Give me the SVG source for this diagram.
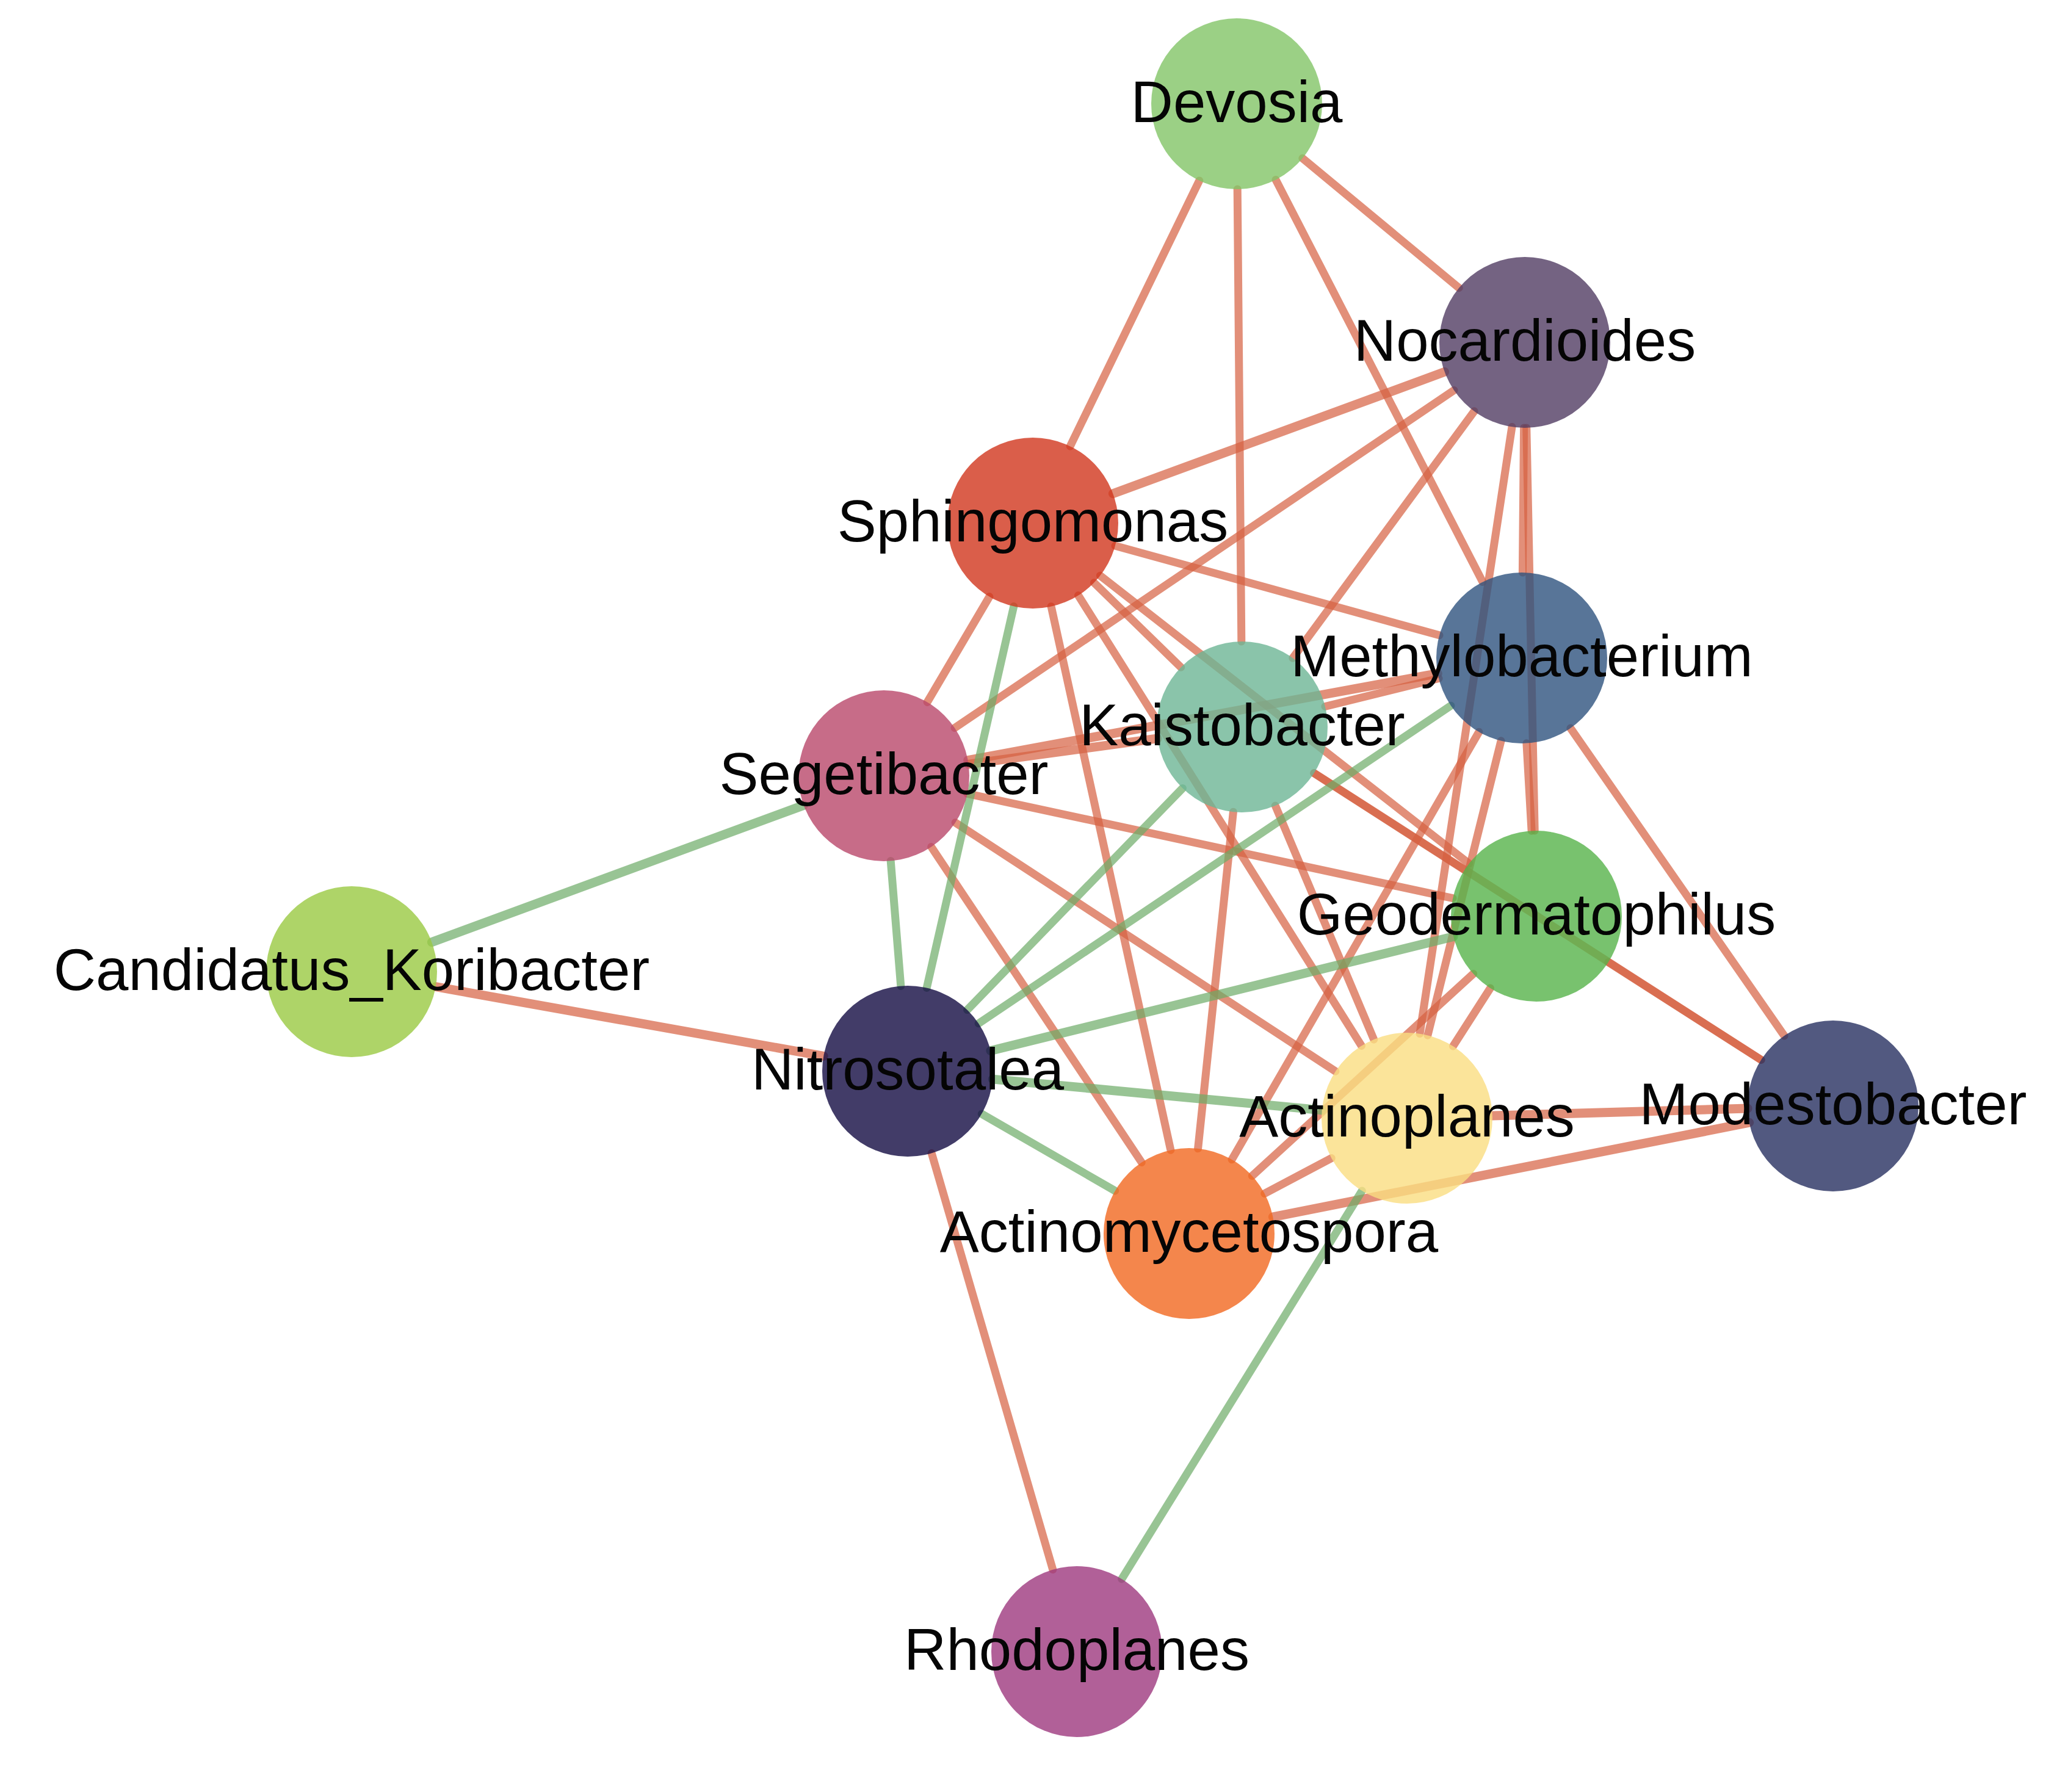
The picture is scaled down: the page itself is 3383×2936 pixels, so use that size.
<svg xmlns="http://www.w3.org/2000/svg" width="3383" height="2936" viewBox="0 0 3383 2936">
<style>
.e{fill:none;stroke-linecap:round;stroke-width:13}
.r{stroke:#d65f40;stroke-opacity:0.7}
.g{stroke:#6cab66;stroke-opacity:0.7}
.w{stroke-width:15}
.n{fill-opacity:0.8}
.t{font-family:"Liberation Sans",Arial,sans-serif;font-size:96px;fill:#050505;text-anchor:middle}
</style>
<rect width="3383" height="2936" fill="#ffffff"/>
<g id="edges">
<line class="e r" x1="1964.8" y1="295.9" x2="1753.2" y2="731.1"/>
<line class="e r" x1="2027.2" y1="310" x2="2033.8" y2="1051"/>
<line class="e r" x1="2133.8" y1="259.3" x2="2390.2" y2="471.7"/>
<line class="e r" x1="2090" y1="294.5" x2="2429" y2="953.5"/>
<line class="e r w" x1="2366.6" y1="609.3" x2="1823.4" y2="808.7"/>
<line class="e r" x1="2382" y1="639.4" x2="1564" y2="1192.6"/>
<line class="e r" x1="2415.1" y1="673.8" x2="2117.9" y2="1078.2"/>
<line class="e r" x1="2496.6" y1="701" x2="2494.4" y2="938"/>
<line class="e r" x1="2500.8" y1="701" x2="2514.2" y2="1361"/>
<line class="e r" x1="2477" y1="699.4" x2="2326" y2="1693.6"/>
<line class="e r" x1="1827" y1="894.2" x2="2358" y2="1040.8"/>
<line class="e r" x1="1620.9" y1="977.6" x2="1519.1" y2="1150.4"/>
<line class="e r" x1="1792.3" y1="954.7" x2="1934.7" y2="1093.3"/>
<line class="e r" x1="1722.1" y1="993.7" x2="1917.9" y2="1884.3"/>
<line class="e r" x1="1766.5" y1="975.5" x2="2230.5" y2="1713.5"/>
<line class="e r" x1="1802.4" y1="943.1" x2="2406.6" y2="1414.9"/>
<line class="e r w" x1="1586.7" y1="1252.1" x2="1896.3" y2="1209.9"/>
<line class="e r w" x1="1585.7" y1="1245.6" x2="2355.3" y2="1103.4"/>
<line class="e r" x1="1584.9" y1="1300.4" x2="2380.1" y2="1471.6"/>
<line class="e r" x1="1565.1" y1="1347.7" x2="2187.9" y2="1755.3"/>
<line class="e r" x1="1525.7" y1="1387.5" x2="1870.3" y2="1904.5"/>
<line class="e r" x1="2170.9" y1="1157.5" x2="2357.1" y2="1111.5"/>
<line class="e r" x1="2020.4" y1="1330.2" x2="1962.6" y2="1881.8"/>
<line class="e r" x1="2089.3" y1="1320" x2="2250.7" y2="1703"/>
<line class="e r" x1="2152.7" y1="1266.7" x2="2399.3" y2="1425.3"/>
<line class="e r" x1="2152.8" y1="1266.6" x2="2885.2" y2="1736.4"/>
<line class="e r" x1="2634.9" y1="1576.5" x2="2885.1" y2="1736.5"/>
<line class="e r" x1="2500.9" y1="1217.8" x2="2509.1" y2="1361.2"/>
<line class="e r" x1="2459.1" y1="1213.8" x2="2338.9" y2="1696.2"/>
<line class="e r" x1="2422.9" y1="1199.2" x2="2018.1" y2="1899.8"/>
<line class="e r" x1="2572.9" y1="1193" x2="2923.1" y2="1697"/>
<line class="e r" x1="2413.7" y1="1595.4" x2="2051.3" y2="1926.6"/>
<line class="e r" x1="2441.5" y1="1618.9" x2="2380.5" y2="1714.1"/>
<line class="e r w" x1="2444.9" y1="1828" x2="2863.1" y2="1816"/>
<line class="e r" x1="2071.7" y1="1955.5" x2="2181.3" y2="1897.5"/>
<line class="e r w" x1="2085.3" y1="1993.8" x2="2865.7" y2="1839.2"/>
<line class="e r w" x1="713.8" y1="1616.7" x2="1349.2" y2="1730.3"/>
<line class="e r" x1="1526.2" y1="1889.4" x2="1724.8" y2="2571.6"/>
<line class="e g w" x1="1316.6" y1="1319.4" x2="707.4" y2="1543.6"/>
<line class="e g" x1="1459.2" y1="1410.5" x2="1475.8" y2="1615.5"/>
<line class="e g" x1="1660.8" y1="993.5" x2="1518.2" y2="1618.5"/>
<line class="e g" x1="1937.4" y1="1291.4" x2="1584.6" y2="1654.6"/>
<line class="e g" x1="2376.9" y1="1156.2" x2="1603.1" y2="1676.8"/>
<line class="e g w" x1="2381.1" y1="1534.5" x2="1622.9" y2="1721.5"/>
<line class="e g w" x1="2165.6" y1="1818.9" x2="1626.4" y2="1768.1"/>
<line class="e g" x1="1826.7" y1="1951" x2="1608.3" y2="1825"/>
<line class="e g" x1="1837.7" y1="2587" x2="2231.3" y2="1951"/>
</g>
<g id="node-Devosia"><circle class="n" cx="2026" cy="170" r="140" fill="#82c467"/><text class="t" x="2026" y="200">Devosia</text></g>
<g id="node-Nocardioides"><circle class="n" cx="2498" cy="561" r="140" fill="#513c63"/><text class="t" x="2498" y="591">Nocardioides</text></g>
<g id="node-Sphingomonas"><circle class="n" cx="1692" cy="857" r="140" fill="#d1361d"/><text class="t" x="1692" y="887">Sphingomonas</text></g>
<g id="node-Kaistobacter"><circle class="n" cx="2035" cy="1191" r="140" fill="#6db595"/><text class="t" x="2035" y="1221">Kaistobacter</text></g>
<g id="node-Methylobacterium"><circle class="n" cx="2493" cy="1078" r="140" fill="#2e537e"/><text class="t" x="2493" y="1108">Methylobacterium</text></g>
<g id="node-Segetibacter"><circle class="n" cx="1448" cy="1271" r="140" fill="#b9476a"/><text class="t" x="1448" y="1301">Segetibacter</text></g>
<g id="node-Geodermatophilus"><circle class="n" cx="2517" cy="1501" r="140" fill="#56b34a"/><text class="t" x="2517" y="1531">Geodermatophilus</text></g>
<g id="node-Candidatus_Koribacter"><circle class="n" cx="576" cy="1592" r="140" fill="#9ac942"/><text class="t" x="576" y="1622">Candidatus_Koribacter</text></g>
<g id="node-Nitrosotalea"><circle class="n" cx="1487" cy="1755" r="140" fill="#130b42"/><text class="t" x="1487" y="1785">Nitrosotalea</text></g>
<g id="node-Actinomycetospora"><circle class="n" cx="1948" cy="2021" r="140" fill="#f1681f"/><text class="t" x="1948" y="2051">Actinomycetospora</text></g>
<g id="node-Actinoplanes"><circle class="n" cx="2305" cy="1832" r="140" fill="#fadd81"/><text class="t" x="2305" y="1862">Actinoplanes</text></g>
<g id="node-Modestobacter"><circle class="n" cx="3003" cy="1812" r="140" fill="#273060"/><text class="t" x="3003" y="1842">Modestobacter</text></g>
<g id="node-Rhodoplanes"><circle class="n" cx="1764" cy="2706" r="140" fill="#9e387e"/><text class="t" x="1764" y="2736">Rhodoplanes</text></g>
</svg>
